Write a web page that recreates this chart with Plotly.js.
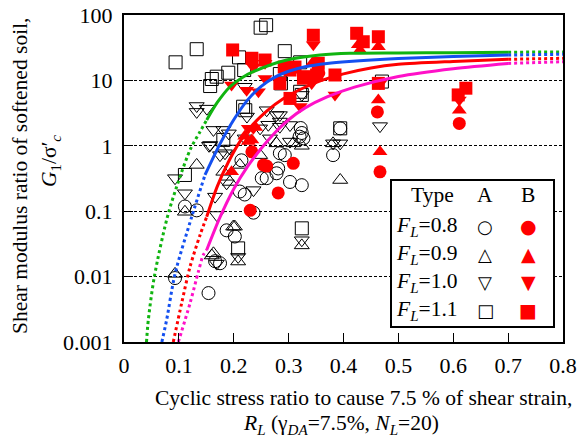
<!DOCTYPE html>
<html>
<head>
<meta charset="utf-8">
<script src="https://cdn.plot.ly/plotly-3.0.1.min.js"></script>
<style>html,body{margin:0;padding:0;background:#fff;}#chart{width:577px;height:437px;}</style>
</head>
<body>
<div id="chart"></div>
<script>
// ---------- Data ----------
// Type A (open black markers)
const A08_x = [0.093,0.154,0.111,0.1325,0.166,0.175,0.187,0.202,0.211,0.220,0.214,0.236,0.251,0.260,0.278,0.281,0.3025,0.324,0.284,0.293,0.381,0.322,0.324,0.320,0.327,0.394];
const A08_y = [0.0095,0.0056,0.118,0.103,0.0172,0.016,0.051,0.041,0.20,0.18,0.60,0.095,0.32,0.32,0.38,0.45,0.28,0.25,0.77,0.72,0.72,1.87,1.57,1.38,1.30,1.85];

const A09_x = [0.093,0.111,0.1325,0.163,0.160,0.193,0.181,0.199,0.202,0.208,0.211,0.248,0.278,0.3085,0.324,0.324,0.381,0.394];
const A09_y = [0.011,0.098,0.51,0.0227,0.021,0.28,0.40,0.058,0.058,0.017,0.51,0.72,1.09,1.09,1.0,0.030,1.09,0.30];

const A10_x = [0.093,0.111,0.1325,0.155,0.166,0.169,0.169,0.184,0.187,0.191,0.208,0.220,0.224,0.236,0.260,0.278,0.284,0.3025,0.324,0.324,0.381,0.394,0.4665,0.1325,0.151,0.163,0.181,0.157,0.175,0.193,0.220,0.248,0.263,0.266,0.284,0.284,0.3025];
const A10_y = [0.32,0.188,4.06,1.0,0.167,0.0875,0.0158,0.77,0.267,1.55,0.020,8.0,2.8,0.21,3.5,2.95,1.96,2.08,6.0,0.036,1.09,1.09,2.0,3.3,3.7,1.75,1.75,1.03,0.72,0.91,1.3,1.85,2.1,1.3,2.35,2.95,1.16];

const A11_x = [0.094,0.1325,0.249,0.259,0.293,0.321,0.2096,0.169,0.157,0.190,0.219,0.284,0.286,0.321,0.217,0.221,0.181,0.394,0.470,0.111,0.208,0.324,0.324,0.160];
const A11_y = [18.9,30,64,70,28,18.9,22.5,11.4,8.2,13.1,14.4,12.5,9.0,6.7,3.96,3.5,1.23,1.85,9.6,0.358,0.027,0.0547,6.0,10.5];

// Type B (filled red markers)
const B08_x = [0.3085,0.254,0.260,0.233,0.281,0.230,0.4617,0.4665,0.611,0.355];
const B08_y = [0.54,0.51,0.49,0.81,0.19,0.103,3.3,0.40,2.2,13];

const B09_x = [0.196,0.2265,0.233,0.220,0.240,0.4635,0.4665,0.611,0.4635,0.430,0.345,0.427];
const B09_y = [0.40,1.16,1.23,1.4,1.9,5.0,0.81,3.5,32.7,29,19.3,35];

const B10_x = [0.345,0.257,0.245,0.2235,0.196,0.2357,0.257,0.321,0.3845,0.2357,0.342,0.4665,0.2265,0.611];
const B10_y = [35,10.7,6.7,7.1,8.5,16,18.3,4.0,6.0,1.85,9.0,9.0,1.85,5.0];

const B11_x = [0.198,0.233,0.257,0.284,0.3025,0.3116,0.330,0.354,0.3845,0.3025,0.345,0.424,0.436,0.4635,0.327,0.351,0.4635,0.623,0.609,0.292];
const B11_y = [29.2,21.8,20.5,9.0,14.4,16,11.4,18.3,12.1,5.3,49,52.5,39,46.5,10.8,12.1,9.0,7.6,6.0,16];

// Fitted curves: low dotted part, solid part, high dotted part
const green_lo_x = [0.041,0.0443,0.0553,0.0815,0.1203,0.1385,0.1507];
const green_lo_y = [0.001,0.00217,0.01,0.097,0.862,1.64,2.48];
const green_x = [0.1507,0.17,0.1932,0.215,0.2356,0.2965,0.357,0.4118,0.5,0.6,0.7];
const green_y = [2.48,4.6,8.0,11.0,13.6,20.5,24.4,26.0,26.3,26.5,27.0];
const green_hi_x = [0.7,0.8];
const green_hi_y = [27.0,27.2];

const blue_lo_x = [0.069,0.0778,0.093,0.1234,0.1476];
const blue_lo_y = [0.001,0.0022,0.011,0.082,0.358];
const blue_x = [0.1476,0.175,0.2,0.225,0.25,0.275,0.3,0.33,0.37,0.41,0.5,0.6,0.7];
const blue_y = [0.358,1.07,2.5,5.0,8.1,11.2,13.8,16.2,18.2,19.5,21.6,23.2,24.4];
const blue_hi_x = [0.7,0.8];
const blue_hi_y = [24.4,25.1];

const red_lo_x = [0.0898,0.105,0.1203,0.1385,0.1507];
const red_lo_y = [0.001,0.0039,0.0141,0.043,0.082];
const red_x = [0.1507,0.17,0.19,0.21,0.23,0.26,0.29,0.32,0.36,0.40,0.45,0.5,0.6,0.7];
const red_y = [0.082,0.24,0.56,1.12,1.9,3.4,5.25,7.2,10.0,12.6,15.5,17.6,19.5,21.0];
const red_hi_x = [0.7,0.8];
const red_hi_y = [21.0,21.8];

const mag_lo_x = [0.099,0.1203,0.1354,0.1445,0.1507];
const mag_lo_y = [0.001,0.0039,0.0118,0.0214,0.0255];
const mag_x = [0.1507,0.175,0.2,0.225,0.25,0.275,0.3,0.33,0.37,0.42,0.5,0.6,0.7];
const mag_y = [0.0255,0.081,0.219,0.48,0.91,1.58,2.5,3.8,5.6,7.9,11.5,15.1,18.2];
const mag_hi_x = [0.7,0.8];
const mag_hi_y = [18.2,19.3];

// Axis ticks
const xTickVals = [0,0.1,0.2,0.3,0.4,0.5,0.6,0.7,0.8];
const xTickText = ['0','0.1','0.2','0.3','0.4','0.5','0.6','0.7','0.8'];
const yTickVals = [0.001,0.01,0.1,1,10,100];
const yTickText = ['0.001','0.01','0.1','1','10','100'];

// Text
const legendTypeLabels = ['Type','A','B'];
const legendFL = ['0.8','0.9','1.0','1.1'];
const legendA = ['○','△','▽','□'];
const legendB = ['●','▲','▼','■'];
const xTitle1 = 'Cyclic stress ratio to cause 7.5 % of shear strain,';
const xTitle2 = '<i>R<sub>L</sub></i> (γ<sub><i>DA</i></sub>=7.5%, <i>N<sub>L</sub></i>=20)';
const yTitle1 = 'Shear modulus ratio of softened soil,';
const yTitle2 = '<i>G</i><sub>1</sub>/σ′<sub><i>c</i></sub>';

// ---------- Build ----------
const FONT = 'Liberation Serif, Times New Roman, serif';
const FS = 21.5;
function openPts(x,y,sym){
  return {x:x,y:y,type:'scatter',mode:'markers',hoverinfo:'skip',
    marker:{symbol:sym,size:13,color:'#000',line:{color:'#000',width:1}}};
}
function redPts(x,y,sym){
  return {x:x,y:y,type:'scatter',mode:'markers',hoverinfo:'skip',
    marker:{symbol:sym,size:13,color:'#ff0000',line:{width:0}}};
}
function curve(x,y,color,dash){
  return {x:x,y:y,type:'scatter',mode:'lines',hoverinfo:'skip',
    line:{color:color,width:3,dash:dash,shape:'spline',smoothing:0.8}};
}
const GREEN='#10b410', BLUE='#1450f0', RED='#ff0000', MAG='#ff10c8';

const traces = [
  openPts(A08_x,A08_y,'circle-open'),
  openPts(A09_x,A09_y,'triangle-up-open'),
  openPts(A10_x,A10_y,'triangle-down-open'),
  openPts(A11_x,A11_y,'square-open'),
  redPts(B08_x,B08_y,'circle'),
  redPts(B09_x,B09_y,'triangle-up'),
  redPts(B10_x,B10_y,'triangle-down'),
  redPts(B11_x,B11_y,'square'),
  curve(green_lo_x,green_lo_y,GREEN,'dot'), curve(green_x,green_y,GREEN,'solid'), curve(green_hi_x,green_hi_y,GREEN,'dot'),
  curve(blue_lo_x,blue_lo_y,BLUE,'dot'), curve(blue_x,blue_y,BLUE,'solid'), curve(blue_hi_x,blue_hi_y,BLUE,'dot'),
  curve(red_lo_x,red_lo_y,RED,'dot'), curve(red_x,red_y,RED,'solid'), curve(red_hi_x,red_hi_y,RED,'dot'),
  curve(mag_lo_x,mag_lo_y,MAG,'dot'), curve(mag_x,mag_y,MAG,'solid'), curve(mag_hi_x,mag_hi_y,MAG,'dot')
];

// Page-pixel helpers for paper coordinates
const W=577,H=437,ML=124,MR=14,MT=15,MB=95;
const PW=W-ML-MR, PH=H-MT-MB;
const px = v => (v-ML)/PW;
const py = v => 1-(v-MT)/PH;

const txtFont = {family:FONT,size:FS,color:'#000'};
const annotations = [];
function addText(xp,yp,text,opts){
  annotations.push(Object.assign({xref:'paper',yref:'paper',x:px(xp),y:py(yp),text:text,showarrow:false,
    font:txtFont,xanchor:'center',yanchor:'middle'},opts||{}));
}
// Axis titles
addText(363,398,xTitle1);
addText(341,424,xTitle2);
addText(20,176,yTitle1,{textangle:-90});
addText(50,161,yTitle2,{textangle:-90});

// Legend table
const headX=[432,485,528];
legendTypeLabels.forEach((t,i)=>addText(headX[i],195,t));
const rowY=[226,254,282,310];
legendFL.forEach((v,i)=>{
  addText(394,rowY[i],'<i>F<sub>L</sub></i>='+v,{xanchor:'left'});
  addText(485,rowY[i],legendA[i],{font:{family:'DejaVu Sans',size:18,color:'#000'}});
  addText(528,rowY[i],legendB[i],{font:{family:'DejaVu Sans',size:19,color:'#ff0000'}});
});

const layout = {
  width:W,height:H,
  margin:{l:ML,r:MR,t:MT,b:MB,pad:0},
  paper_bgcolor:'#fff',plot_bgcolor:'#fff',
  showlegend:false,
  font:{family:FONT,size:21,color:'#000'},
  xaxis:{
    range:[0,0.8],tickvals:xTickVals,ticktext:xTickText,
    ticks:'inside',ticklen:9,tickwidth:1,tickcolor:'#000',
    showline:true,linecolor:'#000',linewidth:2,mirror:true,
    showgrid:false,zeroline:false,ticklabelstandoff:3,
    tickfont:{family:FONT,size:22,color:'#000'},
    automargin:false
  },
  yaxis:{
    type:'log',range:[-3,2],tickvals:yTickVals,ticktext:yTickText,
    ticks:'inside',ticklen:9,tickwidth:1,tickcolor:'#000',
    showline:true,linecolor:'#000',linewidth:2,mirror:true,
    showgrid:true,gridcolor:'#000',gridwidth:1,griddash:'3px,2px',
    zeroline:false,ticklabelstandoff:5,
    tickfont:{family:FONT,size:22,color:'#000'},
    automargin:false
  },
  shapes:[
    {type:'rect',xref:'paper',yref:'paper',x0:px(391),x1:px(554),y0:py(327),y1:py(180),
     line:{color:'#000',width:2},fillcolor:'#fff',layer:'above'}
  ],
  annotations:annotations
};

Plotly.newPlot('chart',traces,layout,{displayModeBar:false});
</script>
</body>
</html>
